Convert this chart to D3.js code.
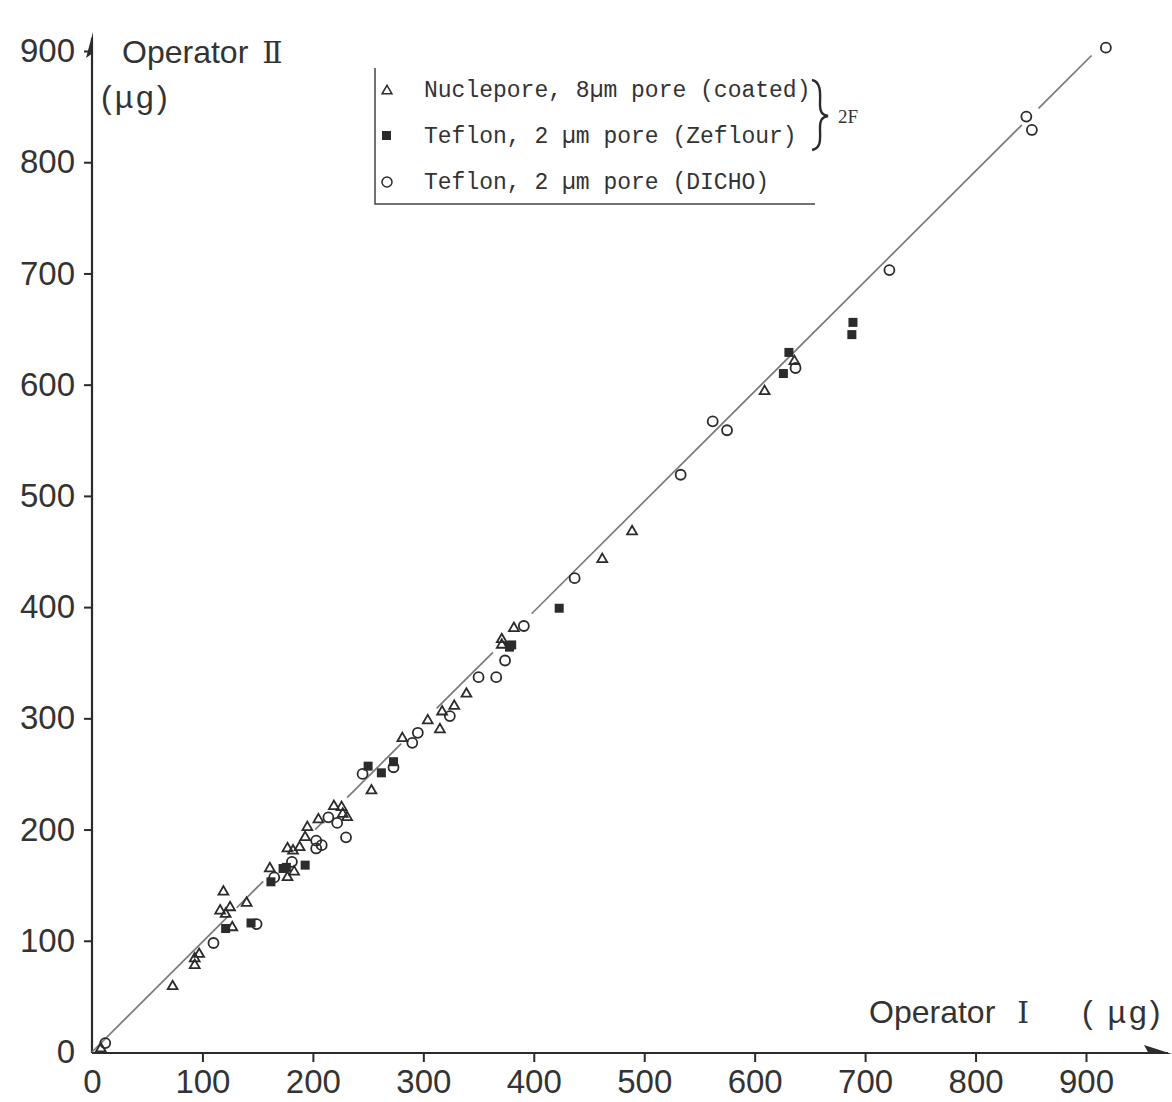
<!DOCTYPE html>
<html>
<head>
<meta charset="utf-8">
<script src="https://cdn.jsdelivr.net/npm/d3@7"></script>
<style>
  body { margin: 0; background: #fff; }
  .tick text { font-family: "Liberation Sans", Arial, sans-serif; fill: #333; }
</style>
</head>
<body>
<script>
// Operator I vs Operator II filter weighings (ug)

// Nuclepore, 8um pore (coated) - triangles
var nuclepore = [
  [8, 3], [73, 59], [93, 84], [93, 78], [97, 88], [119, 144], [116, 127], [121, 124],
  [125, 130], [127, 112], [140, 134], [161, 165], [177, 157], [183, 162], [177, 183],
  [182, 181], [188, 184], [193, 193], [195, 202], [205, 209], [219, 221], [226, 220],
  [227, 214], [231, 211], [253, 235], [281, 282], [304, 298], [315, 290], [317, 306],
  [328, 311], [339, 322], [371, 371], [371, 366], [382, 381], [462, 443], [489, 468],
  [609, 594], [636, 621]
];

// Teflon, 2um pore (Zeflour) - filled squares
var zeflour = [
  [121, 111], [144, 116], [162, 153], [173, 165], [176, 166], [193, 168], [250, 257],
  [262, 251], [273, 261], [378, 364], [380, 366], [423, 399], [626, 610], [631, 629],
  [689, 656], [688, 645]
];

// Teflon, 2um pore (DICHO) - open circles
var dicho = [
  [12, 8], [110, 98], [149, 115], [165, 157], [181, 171], [203, 190], [203, 183],
  [208, 186], [214, 211], [222, 206], [230, 193], [245, 250], [273, 256], [290, 278],
  [295, 287], [324, 302], [350, 337], [366, 337], [374, 352], [391, 383], [437, 426],
  [533, 519], [562, 567], [575, 559], [637, 615], [722, 703], [846, 841], [851, 829],
  [918, 903]
];

// fitted line y = slope * x, drawn in pieces (gaps where the marks sit)
var fitSlope = 0.99;
var fitSegments = [[0, 125], [131, 155], [202, 209], [231, 280], [312, 363], [398, 842], [857, 905]];

var xTicks = [0, 100, 200, 300, 400, 500, 600, 700, 800, 900];
var yTicks = [0, 100, 200, 300, 400, 500, 600, 700, 800, 900];

var legendLabels = [
  'Nuclepore, 8\u00b5m pore (coated)',
  'Teflon, 2 \u00b5m pore (Zeflour)',
  'Teflon, 2 \u00b5m pore (DICHO)'
];

// Set up svg
var svgWidth = 1172;
var svgHeight = 1102;

var svg = d3.select('body').append('svg')
  .attr('width', svgWidth)
  .attr('height', svgHeight);

var xScale = d3.scaleLinear()
  .domain([0, 900])
  .range([92, 1086]);

var yScale = d3.scaleLinear()
  .domain([0, 900])
  .range([1052, 51]);

var ink = '#2b2b2b';
var sans = '"Liberation Sans", Arial, sans-serif';
var originX = xScale(0);
var originY = 1053;

// Axes
var bottomAxis = d3.axisBottom(xScale)
  .tickValues(xTicks)
  .tickSize(9)
  .tickPadding(8);

var leftAxis = d3.axisLeft(yScale)
  .tickValues(yTicks)
  .tickSize(8)
  .tickPadding(9);

var xAxisG = svg.append('g')
  .attr('transform', `translate(0, ${originY})`)
  .call(bottomAxis);

var yAxisG = svg.append('g')
  .attr('transform', `translate(${originX}, 0)`)
  .call(leftAxis);

[xAxisG, yAxisG].forEach(function(g) {
  g.select('.domain').remove();
  g.selectAll('.tick line').attr('stroke', ink).attr('stroke-width', 2);
  g.selectAll('.tick text').attr('font-size', 33);
  g.selectAll('.tick')
    .filter(function(d) { return d === 0; })
    .select('line').remove();
});

// axis lines with arrow heads
svg.append('line')
  .attr('x1', originX).attr('y1', originY)
  .attr('x2', originX).attr('y2', 38)
  .attr('stroke', ink).attr('stroke-width', 2.2);

svg.append('line')
  .attr('x1', originX).attr('y1', originY)
  .attr('x2', 1168).attr('y2', originY)
  .attr('stroke', ink).attr('stroke-width', 2.2);

svg.append('path')
  .attr('d', `M${originX + 1},32 L${originX - 6},58 L${originX + 1},53 Z`)
  .attr('fill', ink);

svg.append('path')
  .attr('d', `M1172,${originY + 1} L1144,${originY - 8} L1149,${originY + 1} Z`)
  .attr('fill', ink);

// Axis titles (roman numerals in a serif face, like the original lettering)
var yTitle = svg.append('text')
  .attr('x', 122)
  .attr('y', 63)
  .attr('font-family', sans)
  .attr('font-size', 32)
  .attr('fill', '#333');
yTitle.append('tspan').text('Operator');
yTitle.append('tspan')
  .attr('dx', 14)
  .attr('font-family', '"DejaVu Serif", "Liberation Serif", serif')
  .attr('font-size', 30)
  .text('\u2161');

svg.append('text')
  .attr('x', 101)
  .attr('y', 108)
  .attr('font-family', sans)
  .attr('font-size', 32)
  .attr('letter-spacing', 3)
  .attr('fill', '#333')
  .text('(\u00b5g)');

var xTitle = svg.append('text')
  .attr('x', 869)
  .attr('y', 1023)
  .attr('font-family', sans)
  .attr('font-size', 32)
  .attr('fill', '#333');
xTitle.append('tspan').text('Operator');
xTitle.append('tspan')
  .attr('dx', 22)
  .attr('font-family', '"DejaVu Serif", "Liberation Serif", serif')
  .attr('font-size', 30)
  .text('\u2160');

svg.append('text')
  .attr('x', 1082)
  .attr('y', 1023)
  .attr('font-family', sans)
  .attr('font-size', 32)
  .attr('letter-spacing', 3)
  .attr('fill', '#333')
  .text('( \u00b5g)');

// Fitted line
var fitLine = d3.line()
  .x(function(d) { return xScale(d); })
  .y(function(d) { return yScale(d * fitSlope); });

svg.append('g')
  .selectAll('path')
  .data(fitSegments)
  .enter()
  .append('path')
  .attr('d', function(d) { return fitLine(d); })
  .attr('fill', 'none')
  .attr('stroke', '#7a7a7a')
  .attr('stroke-width', 1.7);

// Points
var triangle = d3.symbol().type(d3.symbolTriangle).size(42);

svg.append('g')
  .selectAll('path')
  .data(nuclepore)
  .enter()
  .append('path')
  .attr('transform', function(d) {
    return `translate(${xScale(d[0])}, ${yScale(d[1])})`;
  })
  .attr('d', triangle)
  .attr('fill', 'none')
  .attr('stroke', ink)
  .attr('stroke-width', 1.8);

svg.append('g')
  .selectAll('rect')
  .data(zeflour)
  .enter()
  .append('rect')
  .attr('x', function(d) { return xScale(d[0]) - 4.5; })
  .attr('y', function(d) { return yScale(d[1]) - 4.5; })
  .attr('width', 9)
  .attr('height', 9)
  .attr('fill', ink);

svg.append('g')
  .selectAll('circle')
  .data(dicho)
  .enter()
  .append('circle')
  .attr('cx', function(d) { return xScale(d[0]); })
  .attr('cy', function(d) { return yScale(d[1]); })
  .attr('r', 5)
  .attr('fill', 'none')
  .attr('stroke', ink)
  .attr('stroke-width', 1.8);

// Legend
var legend = svg.append('g');

legend.append('path')
  .attr('d', 'M375,68 L375,204 L815,204')
  .attr('fill', 'none')
  .attr('stroke', '#444')
  .attr('stroke-width', 1.5);

var rowY = [90, 136, 182];

legend.append('path')
  .attr('transform', `translate(387, ${rowY[0] + 1})`)
  .attr('d', triangle)
  .attr('fill', 'none')
  .attr('stroke', ink)
  .attr('stroke-width', 1.5);

legend.append('rect')
  .attr('x', 382).attr('y', rowY[1] - 5)
  .attr('width', 9).attr('height', 9)
  .attr('fill', ink);

legend.append('circle')
  .attr('cx', 387).attr('cy', rowY[2])
  .attr('r', 5)
  .attr('fill', 'none')
  .attr('stroke', ink)
  .attr('stroke-width', 1.5);

legend.selectAll('text.label')
  .data(legendLabels)
  .enter()
  .append('text')
  .attr('class', 'label')
  .attr('x', 424)
  .attr('y', function(d, i) { return rowY[i] + 7; })
  .attr('font-family', '"Liberation Mono", "Courier New", monospace')
  .attr('font-size', 23)
  .attr('fill', '#333')
  .text(function(d) { return d; });

// brace grouping the two 2F filters
legend.append('path')
  .attr('d', 'M812,80 C822,82 820,96 820,104 C820,112 822,115 828,116 ' +
    'C822,117 820,120 820,128 C820,138 822,148 812,150')
  .attr('fill', 'none')
  .attr('stroke', ink)
  .attr('stroke-width', 2.4);

legend.append('text')
  .attr('x', 838)
  .attr('y', 123)
  .attr('font-family', '"Liberation Serif", "DejaVu Serif", serif')
  .attr('font-size', 19)
  .attr('fill', '#333')
  .text('2F');
</script>
</body>
</html>
